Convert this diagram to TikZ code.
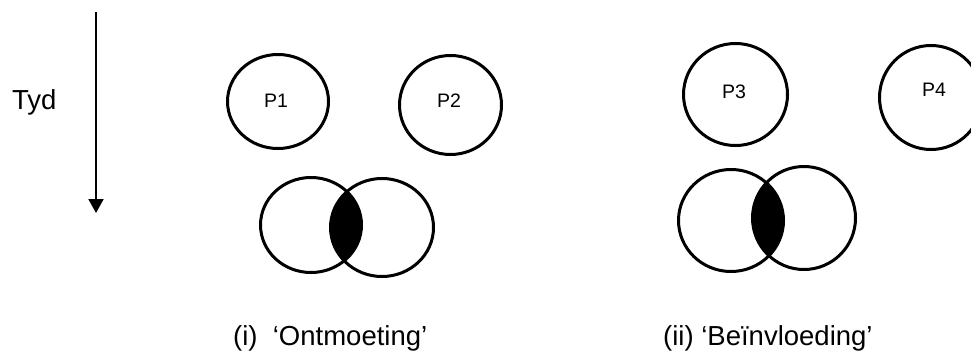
\documentclass[tikz,border=0pt]{standalone}
\usepackage{fontspec}
\setmainfont{Liberation Sans}
\usetikzlibrary{shapes.geometric,arrows.meta}
\begin{document}
\begin{tikzpicture}[x=1pt,y=-1pt,
  ring/.style={draw,ellipse,line width=3pt,inner sep=0pt},
  plabel/.style={inner sep=0pt,anchor=base,font=\fontsize{19.5}{22}\selectfont},
  bigtext/.style={inner sep=0pt,anchor=base west,font=\fontsize{27.5}{32}\selectfont}]
\useasboundingbox (0,0) rectangle (971,356);
% time arrow
\coordinate (ttop) at (96,12);
\coordinate (tbot) at (96,213);
\draw[line width=2pt,-{Triangle[width=15pt,length=14pt]}] (ttop) -- (tbot);
\node[bigtext] (tyd) at (12,109) {Tyd};
% intersections
\begin{scope}
  \clip (311,225) ellipse [x radius=50.5, y radius=47.5];
  \fill (382,227.5) ellipse [x radius=51.5, y radius=49];
\end{scope}
\begin{scope}
  \clip (731,220.5) ellipse [x radius=52.5, y radius=51];
  \fill (804,218) ellipse [x radius=51.5, y radius=51.5];
\end{scope}
% circles
\node[ring,minimum width=101pt,minimum height=94pt] (p1) at (278,101.5) {};
\node[ring,minimum width=102pt,minimum height=99pt] (p2) at (450.5,105) {};
\node[ring,minimum width=104pt,minimum height=102pt] (p3) at (735.5,94.5) {};
\node[ring,minimum width=103pt,minimum height=104pt] (p4) at (931,97.5) {};
\node[ring,minimum width=101pt,minimum height=95pt] (v1l) at (311,225) {};
\node[ring,minimum width=103pt,minimum height=98pt] (v1r) at (382,227.5) {};
\node[ring,minimum width=105pt,minimum height=102pt] (v2l) at (731,220.5) {};
\node[ring,minimum width=103pt,minimum height=103pt] (v2r) at (804,218) {};
% labels
\node[plabel] (p1t) at (276,107) {P1};
\node[plabel] (p2t) at (449,107) {P2};
\node[plabel] (p3t) at (734,98) {P3};
\node[plabel] (p4t) at (934,96) {P4};
\node[bigtext] (cap1) at (233,345) {(i)\ \ ‘Ontmoeting’};
\node[bigtext] (cap2) at (663,345) {(ii) ‘Beïnvloeding’};
\end{tikzpicture}
\end{document}
